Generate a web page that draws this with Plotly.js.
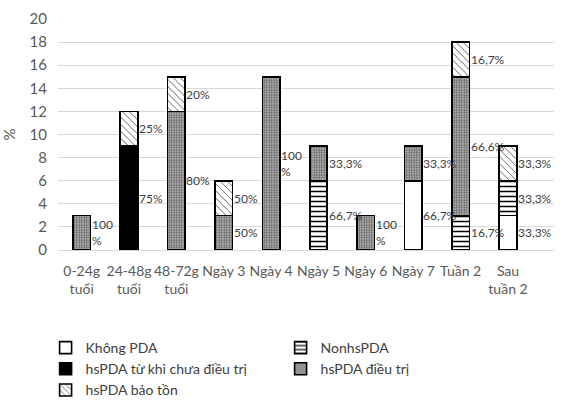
<!DOCTYPE html>
<html><head><meta charset="utf-8">
<script src="https://cdn.plot.ly/plotly-3.0.1.min.js"></script>
<style>html,body{margin:0;padding:0;background:#fff}</style>
</head><body>
<div id="chart" style="width:569px;height:410px"></div>
<script>
const categories = ["0-24g<br>tuổi","24-48g<br>tuổi","48-72g<br>tuổi","Ngày 3","Ngày 4","Ngày 5","Ngày 6","Ngày 7","Tuần 2","Sau<br>tuần 2"];
const seriesNames = ["Không PDA","NonhsPDA","hsPDA từ khi chưa điều trị","hsPDA điều trị","hsPDA bảo tồn"];
const khongPDA     = [0,0,0,0,0,0,0,6,0,3];
const nonhsPDA     = [0,0,0,0,0,6,0,0,3,3];
const hsPDAchuaDT  = [0,9,0,0,0,0,0,0,0,0];
const hsPDAdieuTri = [3,0,12,3,15,3,3,3,12,0];
const hsPDAbaoTon  = [0,3,3,3,0,0,0,0,3,3];
const labelsKhong   = ["","","","","","","","66,7%","","33,3%"];
const labelsNonhs   = ["","","","","","66,7%","","","16,7%","33,3%"];
const labelsChuaDT  = ["","75%","","","","","","","",""];
const labelsDieuTri = ["100<br>%","","80%","50%","100<br>%","33,3%","100<br>%","33,3%","66,6%",""];
const labelsBaoTon  = ["","25%","20%","50%","","","","","16,7%","33,3%"];
const yTicks = [0,2,4,6,8,10,12,14,16,18,20];

const series = [khongPDA, nonhsPDA, hsPDAchuaDT, hsPDAdieuTri, hsPDAbaoTon];
const labels = [labelsKhong, labelsNonhs, labelsChuaDT, labelsDieuTri, labelsBaoTon];
const FONT = "Lato, 'Liberation Sans', sans-serif";
const line = {color:'#000', width:1.6};
const markers = [
  {color:'#fff', line},
  {color:'#fff', line, pattern:{shape:'-', fgcolor:'#000', bgcolor:'#fff', size:5, solidity:0.3}},
  {color:'#000', line},
  {color:'#909090', line, pattern:{shape:'.', fgcolor:'#555', bgcolor:'#bcbcbc', size:2.5, solidity:0.45}},
  {color:'#fff', line, pattern:{shape:'\\', fgcolor:'#333', bgcolor:'#fff', size:5, solidity:0.15}}
];
const traces = series.map((vals,i)=>({
  type:'bar', name:seriesNames[i], x:categories, y:vals,
  marker:markers[i], hoverinfo:'none'
}));

const annotations = [];
const cum = categories.map(()=>0);
series.forEach((vals,i)=>{
  vals.forEach((v,j)=>{
    if (v>0 && labels[i][j]) {
      annotations.push({x:categories[j], y:cum[j]+v/2, text:labels[i][j], showarrow:false,
        xanchor:'left', xshift:8, align:'left',
        font:{family:FONT, size:12, color:'#404040'}});
    }
    cum[j]+=v;
  });
});

const layout = {
  width:569, height:410,
  margin:{l:58, r:15, t:19, b:160, autoexpand:false},
  barmode:'stack', bargap:0.63,
  paper_bgcolor:'#fff', plot_bgcolor:'#fff',
  showlegend:true,
  legend:{orientation:'h', x:-0.025, xanchor:'left', y:-0.355, yanchor:'top',
    entrywidth:190, traceorder:'normal', itemwidth:30, tracegroupgap:0,
    font:{family:FONT, size:14, color:'#404040'}},
  xaxis:{type:'category', showgrid:false, showline:false, ticks:'', ticklabelstandoff:11,
    tickfont:{family:FONT, size:14, color:'#595959'}},
  yaxis:{range:[0,20], tickvals:yTicks, showgrid:true, gridcolor:'#d9d9d9', gridwidth:1,
    zeroline:true, zerolinecolor:'#d9d9d9', zerolinewidth:1, showline:false, ticks:'',
    ticklabelstandoff:10,
    tickfont:{family:FONT, size:15, color:'#595959'},
    title:{text:'%', standoff:10, font:{family:FONT, size:15, color:'#595959'}}},
  annotations
};
Plotly.newPlot('chart', traces, layout, {displayModeBar:false, staticPlot:true});
</script>
</body></html>
